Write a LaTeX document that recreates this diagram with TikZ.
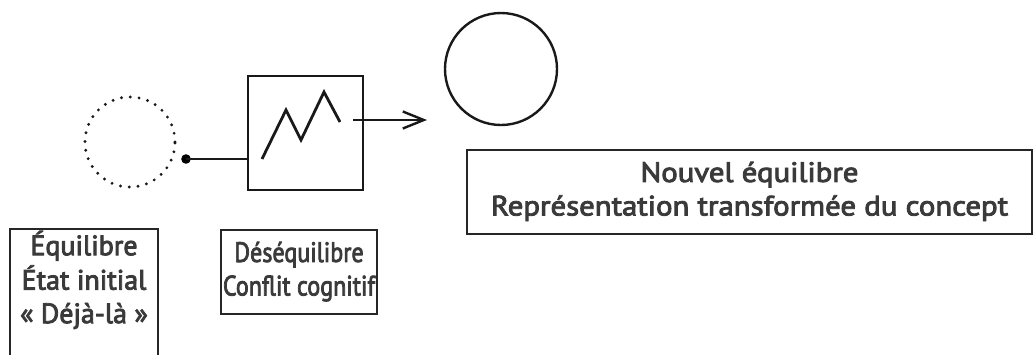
\documentclass[tikz,border=0pt]{standalone}
\usepackage{graphicx}
\usepackage{fontspec}
\setmainfont{PT Sans}
\newfontfamily\lblfont{PT Sans}[FakeBold=3]
\usetikzlibrary{arrows.meta}
\definecolor{txt}{HTML}{3A3A3A}
\newcommand\sxtext[2]{\scalebox{#1}[1]{\begin{tabular}{@{}c@{}}#2\end{tabular}}}
\begin{document}
\begin{tikzpicture}[x=1pt,y=-1pt,
  lbl/.style={text=txt,align=center,inner sep=0pt,font=\lblfont\fontsize{28}{33.5}\selectfont},
  boxline/.style={line width=1.3pt,black!85},
  heavy/.style={line width=2.4pt,black!90}]
\useasboundingbox (0,0) rectangle (1035,354);
% dotted circle (initial state)
\node[circle,minimum size=90pt,inner sep=0pt,draw=black!90,line width=3.2pt,
  dash pattern=on 0pt off 8.8pt,line cap=round] (init) at (130,142) {};
% square with zigzag
\node[draw=black!90,line width=2.4pt,minimum width=115pt,minimum height=114pt,inner sep=0pt] (sq) at (305.5,133) {};
\coordinate (dot) at (186,159);
\coordinate (zs) at (262,159);
\fill (dot) circle (4.8pt);
\draw[heavy] (dot) -- (zs -| sq.west);
\draw[heavy,line width=2.8pt] (zs) -- (286,110) -- (301,140) -- (324,92) -- (340,122);
% arrow to new circle
\node[circle,minimum size=112pt,inner sep=0pt,draw=black!90,line width=2.4pt] (new) at (501,69) {};
\coordinate (as) at (353,120);
\coordinate (ae) at (427,120);
\draw[heavy,-{Straight Barb[length=21pt,width=17pt,line width=2.4pt]}] (as) -- (ae);
% label boxes
\node[lbl,draw=black!85,line width=1.3pt,minimum width=565pt,minimum height=84pt] (nb) at (749.5,192)
  {\sxtext{1.1}{Nouvel équilibre\\Représentation transformée du concept}};
\node[lbl,draw=black!85,line width=1.3pt,minimum width=156pt,minimum height=84pt] (db) at (299,272)
  {\sxtext{0.86}{Déséquilibre\\Conflit cognitif}};
\node[lbl] (eb) at (84,282) {\sxtext{1}{Équilibre\\État initial\\« Déjà-là »}};
\coordinate (ebtl) at (10,229);
\coordinate (ebtr) at (158,229);
\draw[boxline] (ebtl |- 0,360) -- (ebtl) -- (ebtr) -- (ebtr |- 0,360);
\end{tikzpicture}
\end{document}
